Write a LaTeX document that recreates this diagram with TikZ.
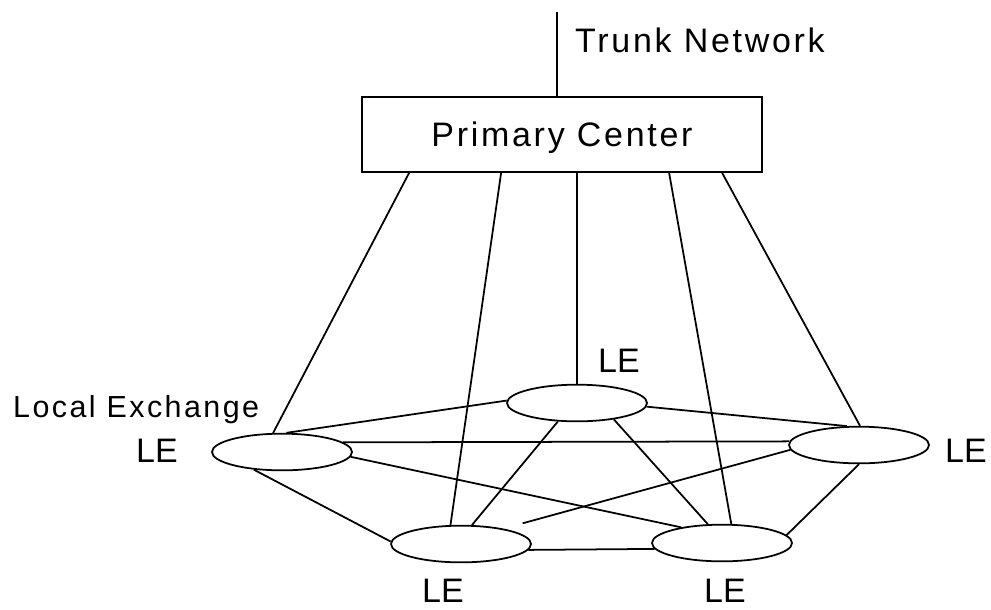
\documentclass[tikz,border=0pt]{standalone}
\usepackage{fontspec}
\setmainfont{Liberation Sans}[LetterSpace=8]
\usetikzlibrary{shapes.geometric,calc}
\tikzset{
  le/.style={ellipse,draw,line width=1.5pt,minimum width=4.2cm,minimum height=1.1cm,inner sep=0pt},
  lbl/.style={inner sep=0pt,anchor=base},
  lename/.style={lbl,font=\fontsize{29}{34}\selectfont\addfontfeature{LetterSpace=0}},
  link/.style={line width=1.5pt}
}
\def\link{\draw[link]}

\begin{document}
\begin{tikzpicture}[x=0.03cm,y=-0.03cm,font=\fontsize{29}{34}\selectfont]
\useasboundingbox (0,0) rectangle (991,609);
% primary center and trunk
\node[draw,line width=1.5pt,minimum width=12cm,minimum height=2.25cm,
      text height=0.74cm,text depth=0pt] (PC) at (562,134.5) {Primary Center};
\coordinate (trunk) at (557,12);
\link (trunk) -- (trunk |- PC.north);
\node[lbl,anchor=base west] (tn) at (575,52) {Trunk Network};
% local exchanges
\node[le] (T)  at (577,403) {};
\node[le] (L)  at (282,452) {};
\node[le] (R)  at (859,445) {};
\node[le] (BL) at (461,544) {};
\node[le] (BR) at (722,543) {};
\node[lename] (tT)  at (619,372) {LE};
\node[lename] (tL)  at (157,462) {LE};
\node[lename] (tR)  at (966,462) {LE};
\node[lename] (tBL) at (443,602) {LE};
\node[lename] (tBR) at (725,602) {LE};
\node[lbl,anchor=base west,font=\fontsize{26}{31}\selectfont] (lx) at (13,417) {Local Exchange};
% lines to the primary center
\link ($(PC.south west)+(48,0)$) -- (L.115);
\link ($(PC.south west)+(140,0)$) -- (BL.119);
\link (PC.south -| T.north) -- (T.north);
\link ($(PC.south west)+(308,0)$) -- (BR.64);
\link ($(PC.south west)+(361,0)$) -- (R.87);
% mesh between the exchanges
\link (L.77) -- (T.178);
\link (L.9) -- (R.177);
\link (L.-4) -- (BR.159);
\link (L.-148) -- (BL.178);
\link (T.-136) -- (BL.60);
\link (T.-24) -- (BR.127);
\link (T.-3) -- (R.123);
\draw[link,shorten >=0.6cm] (R.184) -- (BL.20);
\link (R.-90) -- (BR.7);
\link (BL.-5) -- (BR.185);
\end{tikzpicture}
\end{document}
